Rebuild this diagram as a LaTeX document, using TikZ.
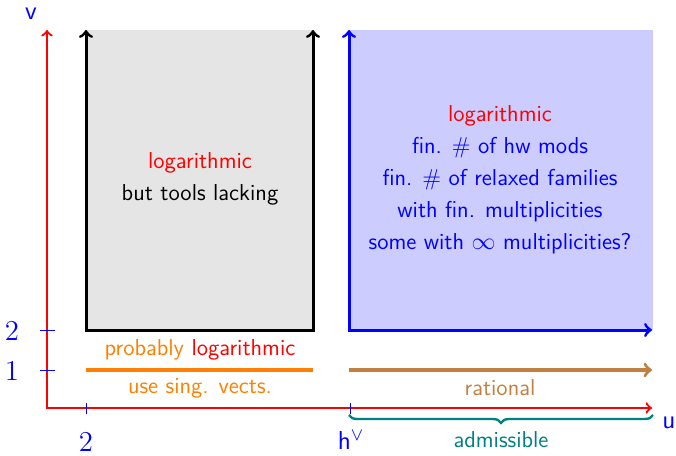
\documentclass[tikz,border=0pt]{standalone}
\usetikzlibrary{decorations.pathreplacing}
\begin{document}
\begin{tikzpicture}[x=0.5pt,y=-0.5pt,
  font=\sffamily\fontsize{11.5}{16}\selectfont,
  axisline/.style={red,line width=1.1pt,->},
  boxline/.style={line width=1.5pt},
  tickmark/.style={blue,line width=0.5pt},
  ticklabel/.style={blue,font=\fontsize{14}{16}\selectfont},
  axislabel/.style={blue,font=\sffamily\fontsize{13}{15}\selectfont},
  txt/.style={align=center,inner sep=0pt}]
\useasboundingbox (0,0) rectangle (676,456);
% coordinates
\coordinate (O) at (47,408);
\coordinate (Ytop) at (47,30);
\coordinate (Xend) at (652,408);
\coordinate (g1) at (86,30);
\coordinate (g2) at (86,330);
\coordinate (g3) at (313,330);
\coordinate (g4) at (313,30);
\coordinate (b1) at (349,30);
\coordinate (b2) at (349,330);
\coordinate (b3) at (652,330);
\coordinate (o1) at (86,370);
\coordinate (o2) at (313,370);
\coordinate (r1) at (349,370);
\coordinate (r2) at (652,370);
\coordinate (br1) at (349,415);
\coordinate (br2) at (653,415);
% fills
\fill[gray!20] (g1) rectangle (g3);
\fill[blue!20] (b1) rectangle (653,330);
% box lines
\draw[boxline,<->,black] (g1) -- (g2) -- (g3) -- (g4);
\draw[boxline,<->,blue] (b1) -- (b2) -- (b3);
\draw[line width=1.6pt,orange] (o1) -- (o2);
\draw[line width=1.6pt,brown,->] (r1) -- (r2);
% axes
\draw[axisline,<->] (Ytop) -- (O) -- (Xend);
% ticks
\draw[tickmark] (40,330) -- (55,330);
\draw[tickmark] (40,370) -- (55,370);
\draw[tickmark] (86,403) -- (86,414);
\draw[tickmark] (350,403) -- (350,414);
\node[ticklabel] (ly2) at (12,331) {$2$};
\node[ticklabel] (ly1) at (12,371) {$1$};
\node[ticklabel] (lx2) at (86,442) {$2$};
\node[axislabel] (lxh) at (351,440) {h$^\vee$};
\node[axislabel] (lv) at (31,14) {v};
\node[axislabel] (lu) at (669,423) {u};
% brace
\draw[teal,line width=1.2pt,decorate,decoration={brace,mirror,amplitude=4pt}] (br1) -- (br2);
\node[teal] (adm) at (501,440) {admissible};
% texts
\node[txt] (gtext) at (200,179) {\textcolor{red}{logarithmic}\\but tools lacking};
\node[txt,blue] (btext) at (500,180) {\textcolor{red}{logarithmic}\\fin. \# of hw mods\\fin. \# of relaxed families\\with fin. multiplicities\\some with $\infty$ multiplicities?};
\node[orange] (prob) at (200,350) {probably \textcolor{red}{logarithmic}};
\node[orange] (sing) at (200,388) {use sing. vects.};
\node[brown] (rat) at (500,388) {rational};
\end{tikzpicture}
\end{document}
